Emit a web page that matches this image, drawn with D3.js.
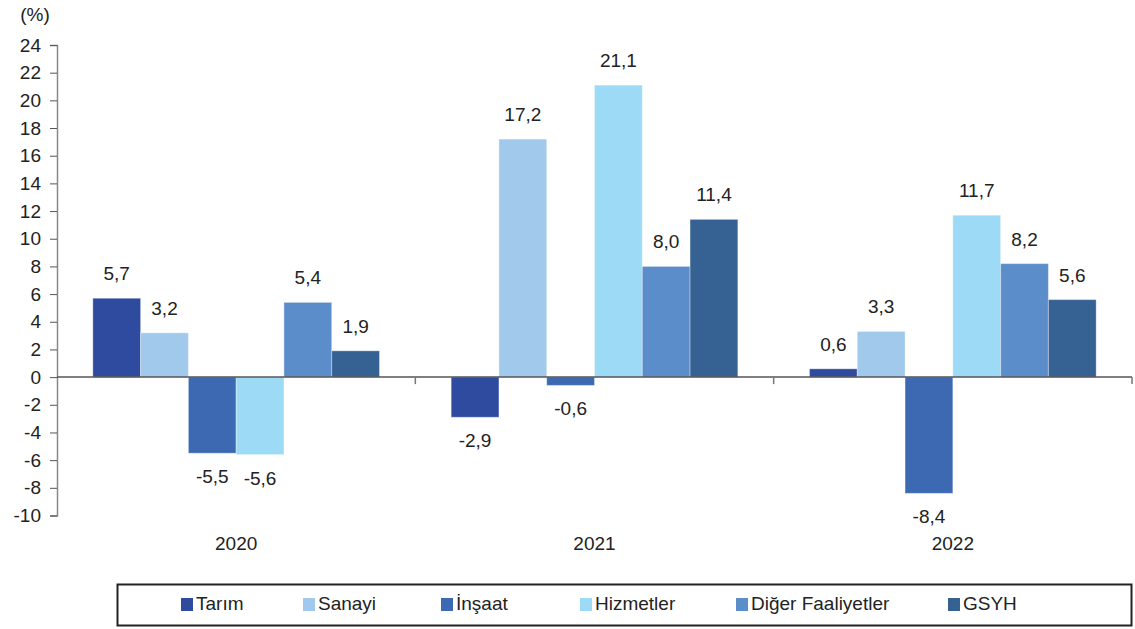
<!DOCTYPE html>
<html>
<head>
<meta charset="utf-8">
<script src="https://cdn.jsdelivr.net/npm/d3@7"></script>
<style>
  body { margin: 0; background: #fff; }
  svg text { font-family: "Liberation Sans Narrow", "Arial Narrow", "Liberation Sans", sans-serif; fill: #222; }
</style>
</head>
<body>
<div id="chart"></div>
<script>
const years = ["2020", "2021", "2022"]
const sectors = ["Tarım", "Sanayi", "İnşaat", "Hizmetler", "Diğer Faaliyetler", "GSYH"]
const tarim = [5.7, -2.9, 0.6]
const sanayi = [3.2, 17.2, 3.3]
const insaat = [-5.5, -0.6, -8.4]
const hizmetler = [-5.6, 21.1, 11.7]
const diger = [5.4, 8.0, 8.2]
const gsyh = [1.9, 11.4, 5.6]
const yTicks = [24, 22, 20, 18, 16, 14, 12, 10, 8, 6, 4, 2, 0, -2, -4, -6, -8, -10]
const colors = ["#2e4b9f", "#a0c9eb", "#3d69b3", "#9cdaf5", "#5a8dc9", "#366193"]

const series = [tarim, sanayi, insaat, hizmetler, diger, gsyh]
const rows = []
years.forEach((yr, i) => {
    series.forEach((s, j) => rows.push({ year: yr, sector: sectors[j], value: s[i] }))
})

const width = 1135, height = 629
const margin = { top: 45, right: 3, bottom: 113, left: 57 }

const svg = d3.select("#chart").append("svg")
    .attr("width", width)
    .attr("height", height)

const x0 = d3.scaleBand()
    .domain(years)
    .range([margin.left, width - margin.right])

const x1 = d3.scaleBand()
    .domain(sectors)
    .range([0, x0.bandwidth()])
    .paddingInner(0)
    .paddingOuter(0.75)

const y = d3.scaleLinear()
    .domain([-10, 24])
    .range([height - margin.bottom - 0.5, margin.top])

const color = d3.scaleOrdinal().domain(sectors).range(colors)

// bars
svg.append("g").selectAll("rect")
    .data(rows)
    .enter()
    .append("rect")
    .attr("x", d => x0(d.year) + x1(d.sector))
    .attr("y", d => y(Math.max(0, d.value)))
    .attr("width", x1.bandwidth())
    .attr("height", d => Math.abs(y(d.value) - y(0)))
    .attr("fill", d => color(d.sector))
    .attr("stroke", "#ffffff")
    .attr("stroke-opacity", 0.35)
    .attr("stroke-width", 1)

// value labels
svg.append("g").selectAll("text")
    .data(rows)
    .enter()
    .append("text")
    .attr("x", d => x0(d.year) + x1(d.sector) + x1.bandwidth() / 2)
    .attr("y", d => d.value >= 0 ? y(d.value) - 18 : y(d.value) + 30)
    .attr("text-anchor", "middle")
    .style("font-size", "19px")
    .text(d => d3.format(".1f")(d.value).replace(".", ",").replace("−", "-"))

// y axis
const yAxis = svg.append("g")
    .attr("transform", `translate(${margin.left},0)`)
    .call(d3.axisLeft(y).tickValues(yTicks).tickSize(7).tickPadding(9)
        .tickFormat(d => String(d)))
yAxis.select(".domain").attr("stroke", "#888").attr("stroke-width", 1.5)
yAxis.selectAll(".tick line").attr("stroke", "#555")
yAxis.selectAll(".tick text").style("font-size", "19px").attr("fill", "#222")

svg.append("text")
    .attr("x", 35)
    .attr("y", 21)
    .attr("text-anchor", "middle")
    .style("font-size", "19px")
    .text("(%)")

// zero axis with category boundary ticks
const xAxis = svg.append("g")
    .attr("transform", `translate(0,${y(0)})`)
xAxis.append("line")
    .attr("x1", margin.left).attr("x2", width - margin.right)
    .attr("stroke", "#555").attr("stroke-width", 1.5)
xAxis.selectAll(".bound")
    .data(years.slice(1).map(d => x0(d)).concat([x0(years[2]) + x0.bandwidth()]))
    .enter()
    .append("line")
    .attr("x1", d => d).attr("x2", d => d)
    .attr("y1", 0).attr("y2", 7)
    .attr("stroke", "#777").attr("stroke-width", 1.5)

// category labels
svg.append("g").selectAll("text")
    .data(years)
    .enter()
    .append("text")
    .attr("x", d => x0(d) + x0.bandwidth() / 2)
    .attr("y", 550)
    .attr("text-anchor", "middle")
    .style("font-size", "19px")
    .text(d => d)

// legend
const legend = svg.append("g")
svg.append("rect")
    .attr("x", 117.5).attr("y", 584.5)
    .attr("width", 1014).attr("height", 41)
    .attr("fill", "none")
    .attr("stroke", "#222").attr("stroke-width", 2)

const legendX = [181, 303, 441, 580, 736, 948]
const item = legend.selectAll("g")
    .data(sectors)
    .enter()
    .append("g")
    .attr("transform", (d, i) => `translate(${legendX[i]},598)`)
item.append("rect")
    .attr("width", 12).attr("height", 13)
    .attr("fill", d => color(d))
item.append("text")
    .attr("x", 15)
    .attr("y", 12)
    .style("font-size", "19px")
    .text(d => d)
</script>
</body>
</html>
